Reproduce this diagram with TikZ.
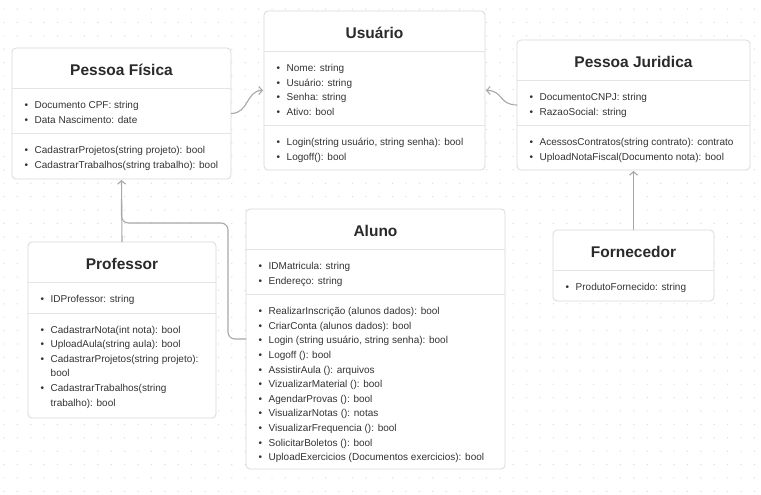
\documentclass[tikz,border=0pt]{standalone}
\usepackage{fontspec}
\setmainfont{Liberation Sans}
\usetikzlibrary{arrows.meta,calc}

\definecolor{ink}{HTML}{333333}
\definecolor{titleink}{HTML}{2A2A2A}
\definecolor{boxcol}{HTML}{DADADA}
\definecolor{sepcol}{HTML}{E4E4E4}
\definecolor{linkcol}{HTML}{A8A8A8}
\definecolor{dotcol}{HTML}{DCDCDC}

\tikzset{
  classbox/.style={draw=boxcol, fill=white, rounded corners=4pt, line width=0.8pt, anchor=north west, inner sep=0pt, outer sep=0pt},
  classtitle/.style={font=\fontsize{15.5}{18}\selectfont\bfseries, text=titleink, inner sep=0pt},
  member/.style={font=\fontsize{10}{12}\selectfont, text=ink, anchor=west, inner sep=0pt, text height=7.2pt, text depth=2pt},
  sepline/.style={draw=sepcol, line width=0.8pt},
  link/.style={draw=linkcol, line width=1.1pt, -{Straight Barb[length=3.5pt,width=8pt]}, shorten >=1pt}
}

% bullet in front of a member, none for a wrapped line
\newcommand\nobul{}
\newcommand\bul[1]{\ifx#1\nobul\hspace*{10pt}\else\makebox[10pt][l]{\textbullet}#1\fi}

% name, corner, width, height, title, attributes, methods
\newcommand\umlclass[7]{%
  \node[classbox, minimum width=#3pt, minimum height=#4pt] (#1) at (#2) {};
  \node[classtitle] at ([yshift=-21.5pt]#1.north) {#5};
  \draw[sepline] ([yshift=-40pt]#1.north west) -- ([yshift=-40pt]#1.north east);
  \foreach \entry [count=\k] in {#6} {
    \node[member] at ([xshift=12.5pt,yshift={-(43.5+14.5*\k)*1pt}]#1.north west) {\expandafter\bul\entry};
    \xdef\nattr{\k}}
  \if\relax\detokenize{#7}\relax\else
    \pgfmathsetmacro\septwo{40+14.5*\nattr+16.5}
    \draw[sepline] ([yshift=-\septwo pt]#1.north west) -- ([yshift=-\septwo pt]#1.north east);
    \foreach \entry [count=\k] in {#7} {
      \node[member] at ([xshift=12.5pt,yshift={-(\septwo+17.5+14.6*(\k-1))*1pt}]#1.north west) {\expandafter\bul\entry};}
  \fi}

\begin{document}
\begin{tikzpicture}[x=1pt,y=-1pt]
\fill[white] (0,0) rectangle (761,495);
\useasboundingbox (0,0) rectangle (761,495);
% dotted canvas
\foreach \gx in {0,...,56}{\foreach \gy in {0,...,36}{\fill[dotcol] (4+13.4*\gx,9+13.4*\gy) circle (0.7);}}

\umlclass{pf}{12,48}{219}{131}{Pessoa Física}
  {Documento CPF: string, Data Nascimento: date}
  {CadastrarProjetos(string projeto): bool, CadastrarTrabalhos(string trabalho): bool}
\umlclass{usr}{264,11}{221}{159}{Usuário}
  {Nome: string, Usuário: string, Senha: string, Ativo: bool}
  {{Login(string usuário, string senha): bool}, Logoff(): bool}
\umlclass{pj}{517,40}{233}{130}{Pessoa Juridica}
  {DocumentoCNPJ: string, RazaoSocial: string}
  {AcessosContratos(string contrato): contrato, UploadNotaFiscal(Documento nota): bool}
\umlclass{prof}{28,242}{188}{176}{Professor}
  {IDProfessor: string}
  {CadastrarNota(int nota): bool, UploadAula(string aula): bool, CadastrarProjetos(string projeto):, \nobul bool, CadastrarTrabalhos(string, \nobul trabalho): bool}
\umlclass{al}{246,209}{259}{260}{Aluno}
  {IDMatricula: string, Endereço: string}
  {RealizarInscrição (alunos dados): bool, CriarConta (alunos dados): bool, {Login (string usuário, string senha): bool}, Logoff (): bool, AssistirAula (): arquivos, VizualizarMaterial (): bool, AgendarProvas (): bool, VisualizarNotas (): notas, VisualizarFrequencia (): bool, SolicitarBoletos (): bool, UploadExercicios (Documentos exercicios): bool}
\umlclass{forn}{553,230}{161}{71}{Fornecedor}
  {ProdutoFornecido: string}
  {}

% inheritance links
\draw[link] (pf.east) .. controls +(18,0) and +(-18,0) .. (usr.west);
\draw[link] (pj.west) .. controls +(-18,0) and +(18,0) .. (usr.east);
\draw[link] (forn.north) -- (pj.south);
\draw[link] (prof.north) -- (pf.south);
\draw[link,-,shorten >=0pt,rounded corners=7pt] (al.west) -- ++(-18,0) |- ([yshift=-44pt]pf.south) -- ([yshift=-20pt]pf.south);
\end{tikzpicture}
\end{document}
